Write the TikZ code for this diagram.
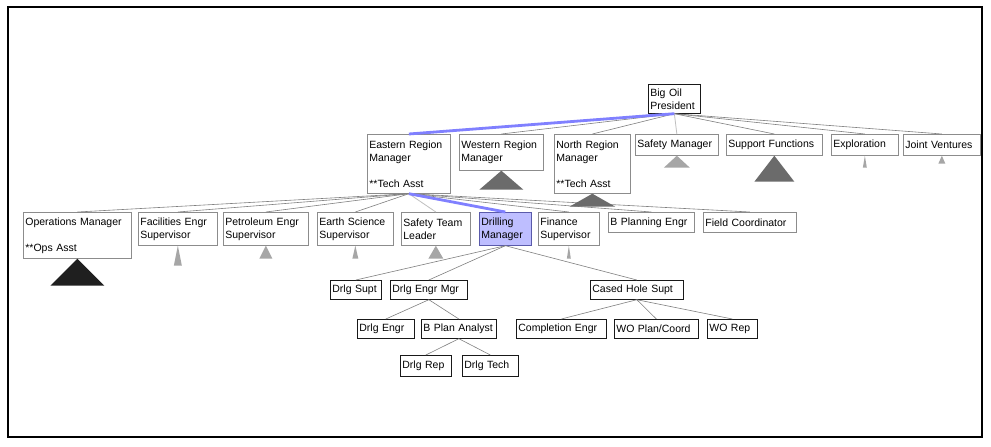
\documentclass[tikz,border=0pt]{standalone}
\usepackage{fontspec}
\setmainfont{Liberation Sans}
\usetikzlibrary{shadows}

\definecolor{pathblue}{RGB}{128,128,255}
\definecolor{drillfill}{RGB}{190,190,255}
\definecolor{drillline}{RGB}{90,90,170}

\tikzset{
  unit/.style={rectangle,draw=black!45,fill=white,line width=0.7pt,anchor=north west,
    align=left,inner xsep=2pt,inner ysep=2pt,
    font=\fontsize{10.5}{13}\selectfont,
    drop shadow={shadow xshift=1pt,shadow yshift=-1pt,fill=black!75,opacity=1}},
  post/.style={unit,draw=black!90},
  dims/.style 2 args={text width=#1pt,minimum height=#2pt},
  link/.style={draw=black!50,line width=0.6pt},
  linkpale/.style={draw=black!25,line width=0.8pt},
  hilite/.style={draw=pathblue,line width=2.8pt},
  subdark/.style={fill=black!88},
  submid/.style={fill=black!58},
  sublight/.style={fill=black!35}
}

\begin{document}
\begin{tikzpicture}[x=1pt,y=-1pt]
  \useasboundingbox (0,0) rectangle (991,447);
  \fill[white] (0,0) rectangle (991,447);
  \draw[line width=2.5pt] (8,7) rectangle (982,437);

  % top of the tree
  \begin{scope}[every node/.style={unit}]
    \node[dims={48}{29},draw=black!90] (pres) at (648,84) {Big Oil\\President};
    \node[dims={79}{59}] (east) at (367,134) {Eastern Region\\Manager\\[13pt]**Tech Asst};
    \node[dims={80}{36}] (west) at (459,134) {Western Region\\Manager};
    \node[dims={72}{59}] (north) at (554,134) {North Region\\Manager\\[13pt]**Tech Asst};
    \node[dims={79}{21}] (safe) at (635,134) {Safety Manager};
    \node[dims={92}{21}] (supp) at (726,134) {Support Functions};
    \node[dims={63}{21}] (expl) at (831,134) {Exploration};
    \node[dims={73}{21}] (joint) at (903,134) {Joint Ventures};

    \node[dims={104}{46}] (ops) at (23,212) {Operations Manager\\[13pt]**Ops Asst};
    \node[dims={75}{33}] (fac) at (138,212) {Facilities Engr\\Supervisor};
    \node[dims={81}{33}] (pet) at (223,212) {Petroleum Engr\\Supervisor};
    \node[dims={72}{33}] (earth) at (317,212) {Earth Science\\Supervisor};
    \node[dims={65}{33}] (steam) at (401,212) {Safety Team\\Leader};
    \node[dims={48}{33},fill=drillfill,draw=drillline] (drill) at (479,212) {Drilling\\Manager};
    \node[dims={57}{33}] (fin) at (538,212) {Finance\\Supervisor};
    \node[dims={82}{20}] (bplan) at (608,212) {B Planning Engr};
    \node[dims={89}{20}] (field) at (703,212) {Field Coordinator};
  \end{scope}

  % drilling branch
  \begin{scope}[every node/.style={post}]
    \node[dims={47}{19}] (dsupt) at (330,280) {Drlg Supt};
    \node[dims={73}{19}] (demgr) at (390,280) {Drlg Engr Mgr};
    \node[dims={89}{19}] (chs) at (590,280) {Cased Hole Supt};

    \node[dims={53}{19}] (deng) at (357,319) {Drlg Engr};
    \node[dims={71}{19}] (bpa) at (421,319) {B Plan Analyst};
    \node[dims={86}{19}] (comp) at (516,319) {Completion Engr};
    \node[dims={80}{19}] (wopc) at (614,319) {WO Plan/Coord};
    \node[dims={46}{19}] (worep) at (707,319) {WO Rep};

    \node[dims={47}{21}] (drep) at (400,355) {Drlg Rep};
    \node[dims={52}{21}] (dtech) at (462,355) {Drlg Tech};
  \end{scope}

  % reporting lines
  \foreach \kid in {west,north,supp,expl,joint}
    \draw[link] (pres.south) -- (\kid.north);
  \draw[linkpale] (pres.south) -- (safe.north);
  \draw[hilite] (pres.south) -- (east.north);

  \foreach \kid in {ops,fac,pet,earth,fin,bplan,field}
    \draw[link] (east.south) -- (\kid.north);
  \draw[linkpale] (east.south) -- (steam.north);
  \draw[hilite] (east.south) -- (drill.north);

  \foreach \kid in {dsupt,demgr,chs}
    \draw[link] (drill.south) -- (\kid.north);
  \foreach \kid in {deng,bpa}
    \draw[link] (demgr.south) -- (\kid.north);
  \foreach \kid in {drep,dtech}
    \draw[link] (bpa.south) -- (\kid.north);
  \foreach \kid in {comp,wopc,worep}
    \draw[link] (chs.south) -- (\kid.north);

  % collapsed sub-trees
  \fill[submid] (west.south) -- ++(-22,19) -- ++(44,0) -- cycle;
  \fill[submid] (north.south) -- ++(-23,13) -- ++(46,0) -- cycle;
  \fill[sublight] (safe.south) -- ++(-13,12) -- ++(26,0) -- cycle;
  \fill[submid] (supp.south) -- ++(-20,26) -- ++(40,0) -- cycle;
  \fill[sublight] (expl.south) -- ++(-2,12) -- ++(4,0) -- cycle;
  \fill[sublight] (joint.south) -- ++(-3.5,8) -- ++(7,0) -- cycle;
  \fill[subdark] (ops.south) -- ++(-27,27) -- ++(54,0) -- cycle;
  \fill[sublight] (fac.south) -- ++(-4,20) -- ++(8,0) -- cycle;
  \fill[sublight] (pet.south) -- ++(-6.5,13) -- ++(13,0) -- cycle;
  \fill[sublight] (earth.south) -- ++(-3,13) -- ++(6,0) -- cycle;
  \fill[sublight] (steam.south) -- ++(-7.5,13) -- ++(15,0) -- cycle;
  \fill[sublight] (fin.south) -- ++(-2,13) -- ++(4,0) -- cycle;
\end{tikzpicture}
\end{document}
